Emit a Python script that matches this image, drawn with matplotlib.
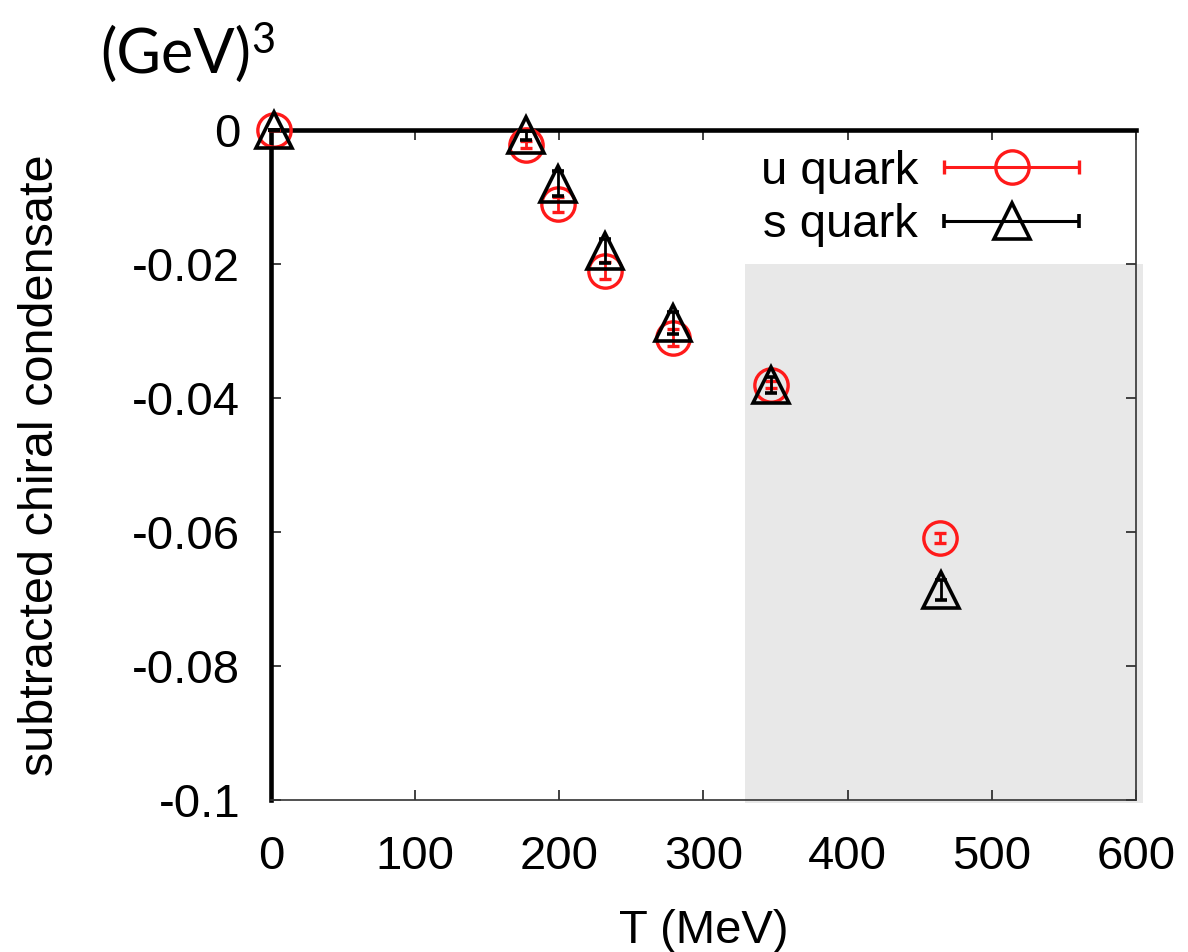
#!/usr/bin/env python3
"""
Subtracted chiral condensate vs temperature for u and s quarks
"""

import matplotlib.pyplot as plt
from matplotlib.patches import Rectangle
from matplotlib.container import ErrorbarContainer
from matplotlib.legend_handler import HandlerErrorbar

plt.rcParams['font.family'] = ['Liberation Sans', 'DejaVu Sans']

# Temperatures (MeV)
T_u = [2, 177, 199, 232, 279, 347, 464]
T_s = [2, 177, 199, 232, 279, 347, 465]

# Condensate values (GeV^3) and errors
cond_u = [0.0, -0.0022, -0.0111, -0.0210, -0.0310, -0.0380, -0.0609]
err_u = [0.0, 0.0005, 0.0011, 0.0013, 0.0013, 0.0005, 0.0008]
cond_s = [0.0, -0.0008, -0.0080, -0.0180, -0.0288, -0.0380, -0.0686]
err_s = [0.0, 0.0007, 0.0019, 0.0018, 0.0016, 0.0012, 0.0015]

# Shaded temperature window
shade_T = (329, 605)
shade_top = -0.02

x_ticks = [0, 100, 200, 300, 400, 500, 600]
y_ticks = [0, -0.02, -0.04, -0.06, -0.08, -0.1]
y_tick_labels = ['0', '-0.02', '-0.04', '-0.06', '-0.08', '-0.1']

FS = 34


def main():
    fig = plt.figure(figsize=(11.88, 9.52), dpi=100)
    ax = fig.add_axes([0.228, 0.1597, 0.7283, 0.7037])

    ax.add_patch(Rectangle((shade_T[0], -0.1005), shade_T[1] - shade_T[0],
                           shade_top + 0.1005, facecolor='#e8e8e8',
                           edgecolor='none', zorder=0, clip_on=False))

    ax.errorbar(T_u, cond_u, yerr=err_u, fmt='o', ms=24, mfc='none',
                mec='#ff1a1a', mew=2.4, ecolor='#ff1a1a', elinewidth=2,
                capsize=4, capthick=2, clip_on=False, zorder=3)
    ax.errorbar(T_s, cond_s, yerr=err_s, fmt='^', ms=26, mfc='none',
                mec='black', mew=2.6, ecolor='black', elinewidth=2,
                capsize=4, capthick=2, clip_on=False, zorder=4)

    # legend proxies: horizontal error bar with marker in the middle
    nan = float('nan')
    h_u = ax.errorbar([nan], [nan], xerr=[1], fmt='o', ms=24, mfc='none',
                      mec='#ff1a1a', mew=2.4, color='#ff1a1a',
                      ecolor='#ff1a1a', elinewidth=2.2, capsize=5, capthick=2.2)
    h_s = ax.errorbar([nan], [nan], xerr=[1], fmt='^', ms=26, mfc='none',
                      mec='black', mew=2.6, color='black',
                      ecolor='black', elinewidth=2.2, capsize=5, capthick=2.2)
    ax.legend([h_u, h_s], ['u quark', 's quark'], loc='upper right',
              frameon=False, fontsize=FS, markerfirst=False, numpoints=1,
              handlelength=2.85, handletextpad=0.55, labelspacing=0.2,
              borderaxespad=0.3, bbox_to_anchor=(0.972, 1.02),
              handler_map={ErrorbarContainer: HandlerErrorbar(xerr_size=1.42)})

    ax.set_xlim(0, 600)
    ax.set_ylim(-0.1, 0)
    ax.set_xticks(x_ticks)
    ax.set_yticks(y_ticks)
    ax.set_yticklabels(y_tick_labels)
    ax.tick_params(direction='in', length=7, width=1.3, labelsize=FS,
                   top=True, right=True, color='#333333')
    ax.tick_params(axis='x', pad=25)
    ax.tick_params(axis='y', pad=22)

    for side in ('top', 'left'):
        ax.spines[side].set_linewidth(3.3)
        ax.spines[side].set_color('black')
    for side in ('bottom', 'right'):
        ax.spines[side].set_linewidth(1.2)
        ax.spines[side].set_color('#333333')
    ax.spines['top'].set_zorder(2.5)
    ax.spines['left'].set_zorder(2.5)

    ax.set_xlabel('T (MeV)', fontsize=FS, labelpad=22)
    ax.set_ylabel('subtracted chiral condensate', fontsize=35, labelpad=50)

    # unit label with superscript drawn as a separate smaller text
    fig.text(0.084, 0.942, '(GeV)', fontsize=44, va='center', ha='left',
             family=['Lato', 'DejaVu Sans'])
    fig.text(0.2115, 0.957, '3', fontsize=30, va='center', ha='left',
             family=['Lato', 'DejaVu Sans'])

    fig.savefig('out.png', dpi=100)


if __name__ == "__main__":
    main()
